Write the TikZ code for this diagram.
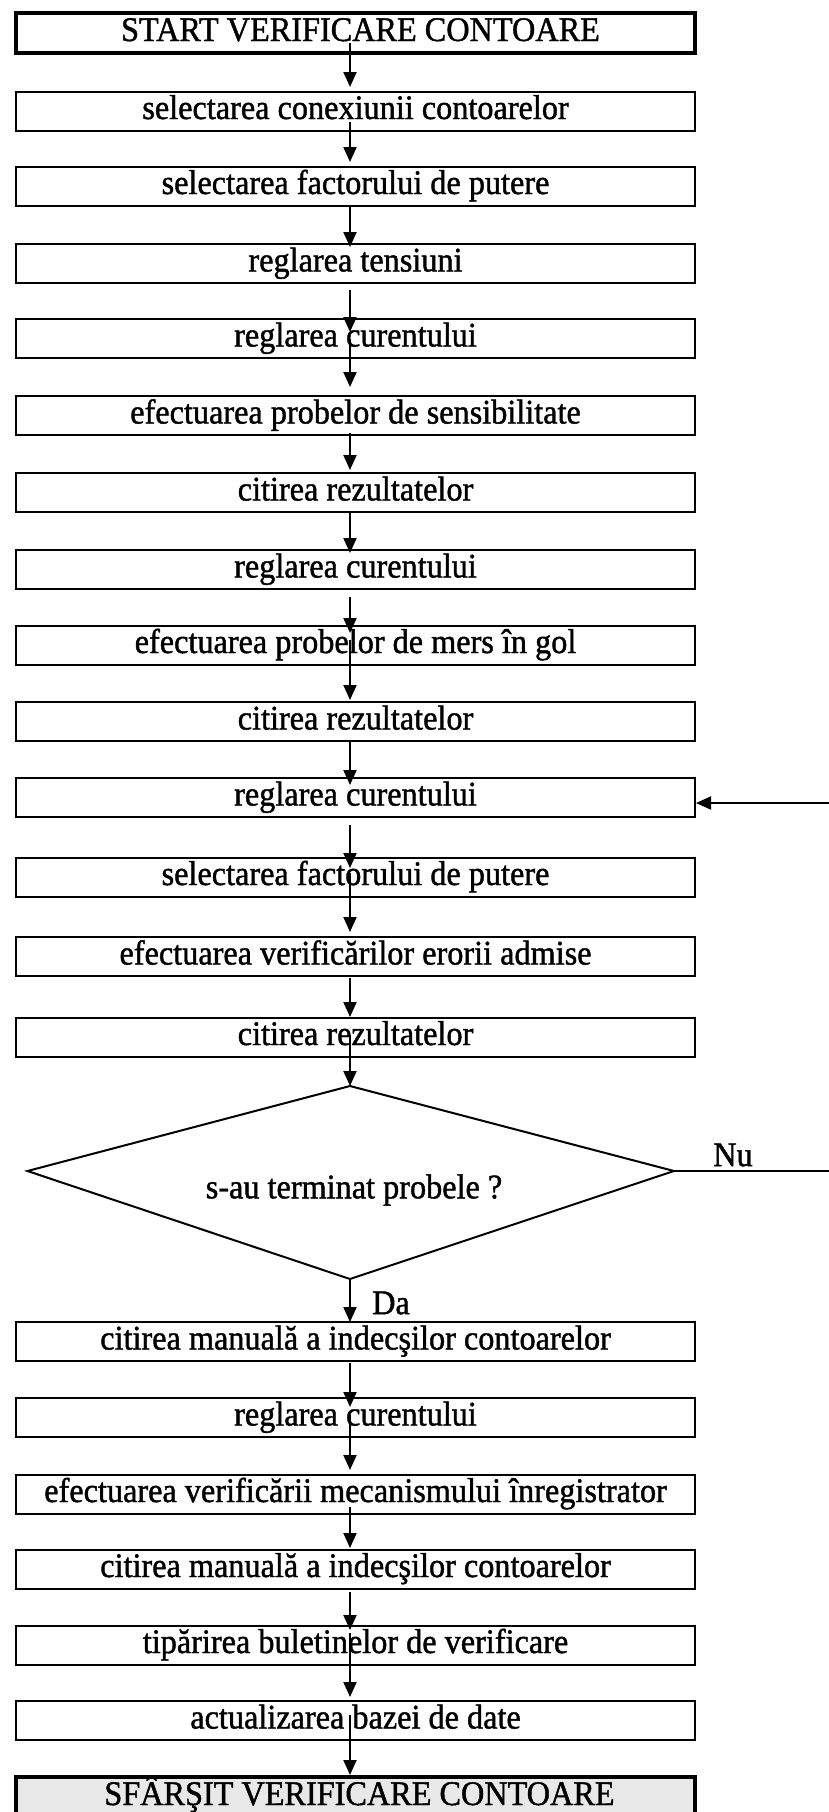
\documentclass[tikz,border=0pt]{standalone}
\usepackage{fontspec}
\setmainfont{Liberation Serif}[FakeStretch=0.935, FakeBold=1.2]
\usetikzlibrary{arrows.meta,calc}

\tikzset{
  stepbox/.style={draw=black, line width=2pt, minimum width=679pt, minimum height=39pt,
    inner sep=0pt, text height=24pt, text depth=8pt, font=\fontsize{34.5}{40}\selectfont},
  termbox/.style={stepbox, line width=3.6pt, minimum height=40pt},
  arr/.style={draw=black, line width=2pt, -{Triangle[length=15pt,width=13pt]}},
  lbl/.style={inner sep=0pt, font=\fontsize{34.5}{40}\selectfont},
}

\begin{document}
\begin{tikzpicture}[x=1pt, y=-1pt]
\useasboundingbox (0,0) rectangle (829,1812);
\clip (0,0) rectangle (829,1812);

% process steps
\node[termbox] (b1) at (355.5,33) {\hspace*{10pt}START VERIFICARE CONTOARE};
\node[stepbox] (b2) at (355.5,111) {selectarea conexiunii contoarelor};
\node[stepbox] (b3) at (355.5,186) {selectarea factorului de putere};
\node[stepbox] (b4) at (355.5,263.5) {reglarea tensiuni};
\node[stepbox] (b5) at (355.5,338.5) {reglarea curentului};
\node[stepbox] (b6) at (355.5,415.5) {efectuarea probelor de sensibilitate};
\node[stepbox] (b7) at (355.5,492.5) {citirea rezultatelor};
\node[stepbox] (b8) at (355.5,569.5) {reglarea curentului};
\node[stepbox] (b9) at (355.5,645) {efectuarea probelor de mers în gol};
\node[stepbox] (b10) at (355.5,721.5) {citirea rezultatelor};
\node[stepbox] (b11) at (355.5,797.5) {reglarea curentului};
\node[stepbox] (b12) at (355.5,877) {selectarea factorului de putere};
\node[stepbox] (b13) at (355.5,956.5) {efectuarea verificărilor erorii admise};
\node[stepbox] (b14) at (355.5,1037) {citirea rezultatelor};

% decision
\coordinate (dT) at (350,1086);
\coordinate (dR) at (674,1171);
\coordinate (dB) at (350,1279);
\coordinate (dL) at (27.5,1171);
\draw[line width=2pt, line join=miter] (dT) -- (dR) -- (dB) -- (dL) -- cycle;
\node[lbl] (dtext) at (354,1190) {s-au terminat probele ?};
\node[lbl] (nu) at (733,1155) {Nu};
\node[lbl] (da) at (391,1303) {Da};

\node[stepbox] (b15) at (355.5,1341.5) {citirea manuală a indecşilor contoarelor};
\node[stepbox] (b16) at (355.5,1417.5) {reglarea curentului};
\node[stepbox] (b17) at (355.5,1494) {efectuarea verificării mecanismului înregistrator};
\node[stepbox] (b18) at (355.5,1569) {citirea manuală a indecşilor contoarelor};
\node[stepbox] (b19) at (355.5,1645) {tipărirea buletinelor de verificare};
\node[stepbox] (b20) at (355.5,1720.5) {actualizarea bazei de date};
\node[termbox, fill=black!9] (b21) at (355.5,1797) {\hspace*{8pt}SFÂRŞIT VERIFICARE CONTOARE};

% vertical flow
\draw[arr] ($(b1.center)+(-5.5,10)$) -- ($(b2.center)+(-5.5,-24)$);
\draw[arr] ($(b2.center)+(-5.5,11)$) -- ($(b3.center)+(-5.5,-24)$);
\draw[arr] ($(b3.center)+(-5.5,21)$) -- ($(b4.center)+(-5.5,-16.5)$);
\draw[arr] ($(b4.center)+(-5.5,26.5)$) -- ($(b5.center)+(-5.5,-6.5)$);
\draw[arr] ($(b5.center)+(-5.5,0)$) -- ($(b6.center)+(-5.5,-28.5)$);
\draw[arr] ($(b6.center)+(-5.5,17.5)$) -- ($(b7.center)+(-5.5,-22.5)$);
\draw[arr] ($(b7.center)+(-5.5,20.5)$) -- ($(b8.center)+(-5.5,-16.5)$);
\draw[arr] ($(b8.center)+(-5.5,27.5)$) -- ($(b9.center)+(-5.5,-12)$);
\draw[arr] ($(b9.center)+(-5.5,-5)$) -- ($(b10.center)+(-5.5,-21.5)$);
\draw[arr] ($(b10.center)+(-5.5,19.5)$) -- ($(b11.center)+(-5.5,-12.5)$);
\draw[arr] ($(b11.center)+(-5.5,27.5)$) -- ($(b12.center)+(-5.5,-9)$);
\draw[arr] ($(b12.center)+(-5.5,-4)$) -- ($(b13.center)+(-5.5,-24.5)$);
\draw[arr] ($(b13.center)+(-5.5,21.5)$) -- ($(b14.center)+(-5.5,-20)$);
\draw[arr] ($(b14.center)+(-5.5,-2)$) -- (dT);
\draw[arr] (dB) -- ($(b15.center)+(-5.5,-19.5)$);
\draw[arr] ($(b15.center)+(-5.5,21.5)$) -- ($(b16.center)+(-5.5,-10.5)$);
\draw[arr] ($(b16.center)+(-5.5,-2.5)$) -- ($(b17.center)+(-5.5,-24)$);
\draw[arr] ($(b17.center)+(-5.5,13)$) -- ($(b18.center)+(-5.5,-21)$);
\draw[arr] ($(b18.center)+(-5.5,23)$) -- ($(b19.center)+(-5.5,-15)$);
\draw[arr] ($(b19.center)+(-5.5,-12)$) -- ($(b20.center)+(-5.5,-23.5)$);
\draw[arr] ($(b20.center)+(-5.5,-5.5)$) -- ($(b21.center)+(-5.5,-22)$);

% "Nu" branch loops back to the current setting step
\coordinate (loop) at (850,1171);
\draw[arr] (dR) -- (loop) |- ([yshift=-5.5pt]b11.east);
\end{tikzpicture}
\end{document}
